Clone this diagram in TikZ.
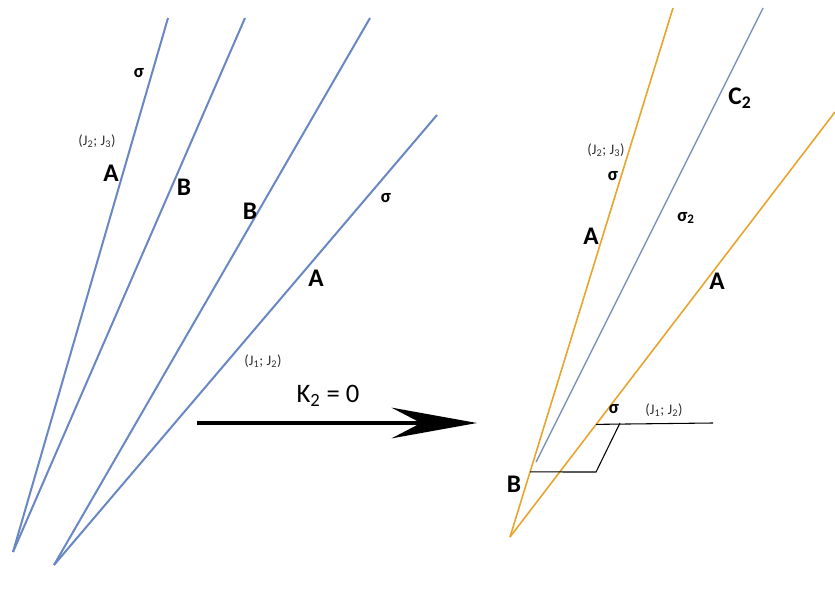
\documentclass[tikz,border=0pt]{standalone}
\usepackage{fontspec}
\setmainfont{Carlito}
\usetikzlibrary{arrows.meta,calc}
\definecolor{fanblue}{RGB}{105,135,195}
\definecolor{pathblue}{RGB}{120,145,185}
\definecolor{fanorange}{RGB}{232,165,45}
\tikzset{
  bluefan/.style={draw=fanblue,line width=1.5pt},
  orangefan/.style={draw=fanorange,line width=1.2pt},
  blackline/.style={draw=black,line width=0.8pt},
  bigletter/.style={inner sep=0.75pt,font=\fontsize{19}{19}\selectfont\bfseries},
  sigmalabel/.style={inner sep=0.75pt,font=\fontsize{14}{14}\selectfont\bfseries},
  pairlabel/.style={inner sep=0.75pt,font=\fontsize{11}{11}\selectfont,text=black!80}
}
\begin{document}
\begin{tikzpicture}[x=0.75pt,y=0.75pt,yscale=-1,xscale=1]
\useasboundingbox (0,0) rectangle (835,598);

%Points: left fan
\coordinate (p1) at (13,552);
\coordinate (p2) at (54,565);
\coordinate (t1) at (168,18);
\coordinate (t2) at (245,18);
\coordinate (t3) at (370,18);
\coordinate (t4) at (437,115);
%Points: right fan
\coordinate (q0) at (510,537);
\coordinate (u1) at (673,8);
\coordinate (u2) at (835,112);
\coordinate (c0) at (536,462);
\coordinate (u3) at (763,8);

%Straight Lines: left fan
\draw [bluefan] (p1) -- (t1) ;
\draw [bluefan] (p1) -- (t2) ;
\draw [bluefan] (p2) -- (t3) ;
\draw [bluefan] (p2) -- (t4) ;

%Straight Lines: right fan
\draw [orangefan] (q0) -- (u1) ;
\draw [orangefan] (q0) -- (u2) ;
\draw [draw=pathblue,line width=1pt] (c0) -- (u3) ;

%Straight Lines: bracket
\coordinate (h1) at ($(q0)!0.265!(u2)$);
\coordinate (h2) at (713,423);
\coordinate (k1) at (620,423);
\coordinate (k2) at (596,472);
\coordinate (k3) at ($(q0)!0.123!(u1)$);
\draw [blackline] (h1) -- (h2) ;
\draw [blackline] (k1) -- (k2) -- (k3) ;

%Arrow
\coordinate (a1) at (197,423);
\coordinate (a2) at (477,423);
\draw [line width=3pt,-{Stealth[length=64pt,width=23pt,inset=22pt]}] (a1) -- (a2) ;

% Text Node: left
\node [sigmalabel] (sl1) at (139,73) {σ};
\node [pairlabel] (jl1) at (97,141) {(J\textsubscript{2}; J\textsubscript{3})};
\node [bigletter] (al1) at (111,173) {A};
\node [bigletter] (bl1) at (184,187) {B};
\node [bigletter] (bl2) at (250,211) {B};
\node [sigmalabel] (sl2) at (386,198) {σ};
\node [bigletter] (al2) at (316,278) {A};
\node [pairlabel] (jl2) at (263,361) {(J\textsubscript{1}; J\textsubscript{2})};
\node [inner sep=0.75pt,font=\fontsize{20}{20}\selectfont] (kl) at (328,396) {K\textsubscript{2} = 0};

% Text Node: right
\node [bigletter] (cr) at (740,98) {C\textsubscript{2}};
\node [pairlabel] (jr1) at (606,150) {(J\textsubscript{2}; J\textsubscript{3})};
\node [sigmalabel] (sr1) at (613,176) {σ};
\node [bigletter] (ar1) at (591,236) {A};
\node [sigmalabel] (sr2) at (686,218) {σ\textsubscript{2}};
\node [bigletter] (ar2) at (717,281) {A};
\node [sigmalabel] (sr3) at (614,409) {σ};
\node [pairlabel] (jr2) at (664,410) {(J\textsubscript{1}; J\textsubscript{2})};
\node [bigletter] (br) at (514,484) {B};

\end{tikzpicture}
\end{document}
